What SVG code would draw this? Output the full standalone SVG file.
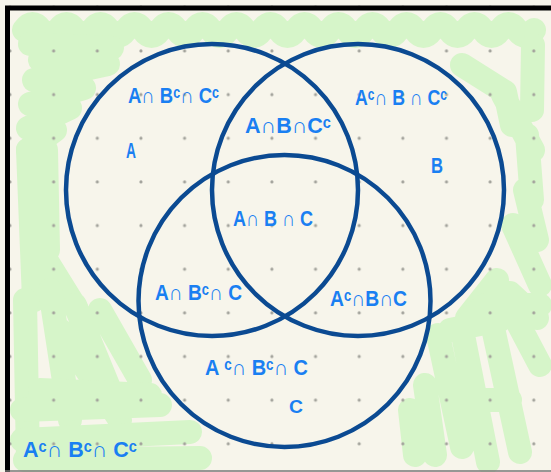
<svg xmlns="http://www.w3.org/2000/svg" width="551" height="472" viewBox="0 0 551 472">
<style>
.g{fill:none;stroke:#d6f5c9;stroke-width:24;stroke-linecap:round;stroke-linejoin:round}
.c{fill:none;stroke:#0b4a92;stroke-width:4.5}
.t{font-family:"Liberation Sans","DejaVu Sans",sans-serif;font-weight:bold;font-size:22px;fill:#1a7ff2}
</style>
<defs>
<pattern id="dots" x="-11.8" y="29.2" width="43.65" height="43.65" patternUnits="userSpaceOnUse">
<circle cx="21.8" cy="21.8" r="1.6" fill="#a3a39c"/>
</pattern>
</defs>
<rect width="551" height="472" fill="#f7f5eb"/>
<g id="green">
<path class="g" stroke-width="22" d="M24,30 Q32.5,18 41,30 T58,30 T75,30 T92,30 T109,30 T126,30 T143,30 T160,30 T177,30 T194,30 T211,30 T228,30 T245,30 T262,30 T279,30 T296,30 T313,30 T330,30 T347,30 T364,30 T381,30 T398,30 T415,30 T432,30 T449,30 T466,30 T483,30 T500,30 T517,30 T534,30"/>
<path class="g" d="M30,44 L112,48 L40,60 L108,64 L34,80 L84,88 L30,104 L70,108 L28,128 L55,130 L28,150"/>
<path class="g" d="M28,150 L34,300 M46,150 L48,250 M40,250 L76,308"/>
<path class="g" d="M25,300 L28,460 M50,290 L70,420 M75,305 L112,395 M100,310 L140,380 M60,330 L120,420"/>
<path class="g" d="M22,410 L160,405 M22,440 L190,432 M25,460 L200,458 M40,390 L150,395"/>
<path class="g" d="M533,45 L532,110 M462,65 L505,92 L512,125 M503,95 L533,150 M527,135 L532,200 M525,190 L537,240 M513,225 L540,285 M510,293 L537,318 M497,280 L467,318"/>
<path class="g" d="M470,318 L485,305 L540,305 M438,335 L462,447 M425,385 L435,455 M410,410 L415,455 M463,335 L488,462 M493,328 L520,452 M510,308 L540,365 M450,330 L500,320 M470,400 L510,400"/>
</g>
<rect width="551" height="472" fill="url(#dots)"/>
<g id="frame">
<line x1="7.5" y1="6" x2="7.5" y2="472" stroke="#000" stroke-width="5"/>
<line x1="5" y1="8" x2="551" y2="8" stroke="#000" stroke-width="5"/>
<line x1="5" y1="471" x2="551" y2="471" stroke="#777" stroke-width="1.5"/>
</g>
<g id="connectors"></g>
<g id="circleA"><circle class="c" cx="212" cy="190" r="146"/></g>
<g id="circleB"><circle class="c" cx="358" cy="190" r="146"/></g>
<g id="circleC"><circle class="c" cx="284.5" cy="301" r="146"/></g>
<g id="labels">
<text class="t" x="128" y="103" textLength="91" lengthAdjust="spacingAndGlyphs">A∩ Bᶜ∩ Cᶜ</text>
<text class="t" x="126" y="158" textLength="10" lengthAdjust="spacingAndGlyphs">A</text>
<text class="t" x="245" y="133" textLength="86" lengthAdjust="spacingAndGlyphs">A∩B∩Cᶜ</text>
<text class="t" x="355" y="105" textLength="92" lengthAdjust="spacingAndGlyphs">Aᶜ∩ B ∩ Cᶜ</text>
<text class="t" x="431" y="173" textLength="12" lengthAdjust="spacingAndGlyphs">B</text>
<text class="t" x="233" y="226" textLength="80" lengthAdjust="spacingAndGlyphs">A∩ B ∩ C</text>
<text class="t" x="155" y="300" textLength="87" lengthAdjust="spacingAndGlyphs">A∩ Bᶜ∩ C</text>
<text class="t" x="330" y="306" textLength="77" lengthAdjust="spacingAndGlyphs">Aᶜ∩B∩C</text>
<text class="t" x="205" y="375" textLength="103" lengthAdjust="spacingAndGlyphs">A ᶜ∩ Bᶜ∩ C</text>
<text class="t" x="289" y="413" textLength="14" lengthAdjust="spacingAndGlyphs" style="font-size:19px">C</text>
<text class="t" x="23" y="457" textLength="114" lengthAdjust="spacingAndGlyphs">Aᶜ∩ Bᶜ∩ Cᶜ</text>
</g>
</svg>
